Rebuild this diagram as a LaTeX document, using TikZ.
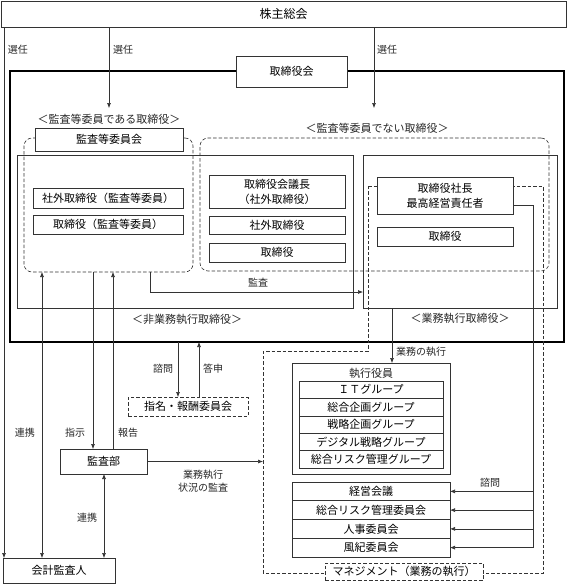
\documentclass[tikz,border=0pt]{standalone}
\usepackage{fontspec}
\newfontfamily\jp{Noto Sans CJK JP}
\usetikzlibrary{arrows.meta}
\tikzset{
  ln/.style={draw=black!80, line width=0.6pt},
  plainbox/.style={ln, inner sep=0pt, outer sep=0pt},
  bx/.style={plainbox, fill=white, font=\jp\fontsize{11}{15}\selectfont, align=center},
  dbx/.style={bx, dash pattern=on 3.5pt off 2pt},
  dgrp/.style={plainbox, dash pattern=on 3.5pt off 2pt, rounded corners=8pt},
  bigbox/.style={inner sep=0pt, outer sep=0pt, draw=black, line width=1.4pt},
  lbl/.style={font=\jp\fontsize{10}{13}\selectfont, inner sep=0pt, align=center, text=black!85},
  glbl/.style={font=\jp\fontsize{11}{14}\selectfont, inner sep=0pt, align=center, text=black!85},
  tip/.style={-{Latex[length=5pt,width=4pt]}},
  arr/.style={ln, tip},
  darr/.style={ln, {Latex[length=5pt,width=4pt]}-{Latex[length=5pt,width=4pt]}},
  dsh/.style={ln, dash pattern=on 3.5pt off 2pt},
}
\newcommand\cbox[7][bx]{\node[#1, minimum width={#5pt-#3pt}, minimum height={#6pt-#4pt}] (#2) at ({(#3+#5)/2},{(#4+#6)/2}) {#7};}
\begin{document}
\begin{tikzpicture}[x=1pt,y=-1pt]
\useasboundingbox (0,0) rectangle (567,584);
% frames
\cbox[bigbox]{big}{10}{71}{564}{342}{}
\cbox[plainbox]{nonexec}{17}{155}{353}{308}{}
\cbox[plainbox]{exec}{363}{155}{557}{308}{}
\cbox[dgrp]{grpA}{24}{138}{193}{272}{}
\cbox[dgrp]{grpB}{200}{138}{549}{271}{}
% management area
\draw[dsh] (368,186) -- (543,186) -- (543,573) -- (263,573) -- (263,351) -- (368,351) -- cycle;
% boxes
\cbox[bx,font=\jp\fontsize{12}{15}\selectfont]{kabu}{1}{1}{566}{27}{株主総会}
\cbox{tbk}{236}{56}{347}{87}{取締役会}
\cbox{kiin}{35}{128}{183}{151}{監査等委員会}
\cbox{sk}{33}{188}{183}{208}{社外取締役（監査等委員）}
\cbox{tk}{33}{215}{183}{234}{取締役（監査等委員）}
\cbox{gicho}{209}{175}{345}{208}{取締役会議長\\（社外取締役）}
\cbox{shagai}{209}{216}{345}{234}{社外取締役}
\cbox{tori}{209}{243}{345}{262}{取締役}
\cbox{shacho}{377}{177}{513}{214}{取締役社長\\最高経営責任者}
\cbox{tori2}{377}{227}{513}{246}{取締役}
\cbox[dbx]{shimei}{128}{397}{248}{416}{指名・報酬委員会}
\cbox{kansabu}{60}{449}{147}{474}{監査部}
\cbox{kaikei}{3}{558}{115}{583}{会計監査人}
\cbox{shikko}{292}{363}{450}{474}{}
\node[glbl] (shikkot) at (371,373) {執行役員};
\cbox{g1}{299}{381}{443}{398.4}{ＩＴグループ}
\cbox{g2}{299}{398.4}{443}{415.8}{総合企画グループ}
\cbox{g3}{299}{415.8}{443}{433.2}{戦略企画グループ}
\cbox{g4}{299}{433.2}{443}{450.6}{デジタル戦略グループ}
\cbox{g5}{299}{450.6}{443}{468}{総合リスク管理グループ}
\cbox{c1}{292}{482}{450}{500.75}{経営会議}
\cbox{c2}{292}{500.75}{450}{519.5}{総合リスク管理委員会}
\cbox{c3}{292}{519.5}{450}{538.25}{人事委員会}
\cbox{c4}{292}{538.25}{450}{557}{風紀委員会}
\cbox[dbx]{mgmt}{325}{563}{483}{580}{マネジメント（業務の執行）}
% group labels
\node[glbl] (gA) at (109,119) {＜監査等委員である取締役＞};
\node[glbl] (gB) at (377,128) {＜監査等委員でない取締役＞};
\node[glbl] (gN) at (187,319) {＜非業務執行取締役＞};
\node[glbl] (gE) at (460,318) {＜業務執行取締役＞};
% helper coordinates
\coordinate (xA) at (109,108);
\coordinate (xB) at (374,108);
\coordinate (x0) at (4,0);
\coordinate (v1) at (42,0);
\coordinate (v2) at (93,0);
\coordinate (v3) at (113,0);
\coordinate (v4) at (104,0);
\coordinate (v5) at (178,0);
\coordinate (v6) at (199,0);
\coordinate (k) at (150,292);
\coordinate (v7) at (392,0);
\coordinate (mleft) at (263,0);
\coordinate (sv) at (533,205);
% connectors
\draw[arr] (kabu.south -| x0) -- (kaikei.north -| x0);
\draw[arr] (kabu.south -| xA) -- (xA);
\draw[arr] (kabu.south -| xB) -- (xB);
\draw[arr] (grpA.south -| k) -- (k) -- (k -| exec.west);
\draw[darr] (grpA.south -| v1) -- (kaikei.north -| v1);
\draw[arr] (grpA.south -| v2) -- (kansabu.north -| v2);
\draw[arr] (kansabu.north -| v3) -- (grpA.south -| v3);
\draw[darr] (kansabu.south -| v4) -- (kaikei.north -| v4);
\draw[arr] (big.south -| v5) -- (shimei.north -| v5);
\draw[arr] (shimei.north -| v6) -- (big.south -| v6);
\draw[arr] (kansabu.east) -- (kansabu.east -| mleft);
\draw[arr] (exec.south -| v7) -- (shikko.north -| v7);
\draw[ln] (shacho.east |- sv) -- (sv) -- (sv |- c4.east);
\draw[arr] (sv |- c1.east) -- (c1.east);
\draw[arr] (sv |- c2.east) -- (c2.east);
\draw[arr] (sv |- c3.east) -- (c3.east);
\draw[arr] (sv |- c4.east) -- (c4.east);
% labels
\node[lbl] (s1) at (18,50) {選任};
\node[lbl] (s2) at (123,50) {選任};
\node[lbl] (s3) at (387,50) {選任};
\node[lbl] (lk) at (258,283) {監査};
\node[lbl] (r1) at (25,433) {連携};
\node[lbl] (r2) at (75,433) {指示};
\node[lbl] (r3) at (128,433) {報告};
\node[lbl] (r4) at (87,518) {連携};
\node[lbl] (q1) at (163,369) {諮問};
\node[lbl] (q2) at (213,369) {答申};
\node[lbl] (q3) at (203,481) {業務執行\\状況の監査};
\node[lbl] (q4) at (421,352) {業務の執行};
\node[lbl] (q5) at (490,483) {諮問};
\end{tikzpicture}
\end{document}
